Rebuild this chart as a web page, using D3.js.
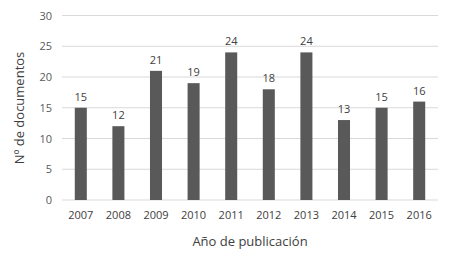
<!DOCTYPE html>
<html><head><meta charset="utf-8">
<script src="https://cdn.jsdelivr.net/npm/d3@7"></script>
<style>body{margin:0;background:#fff}svg{display:block}</style>
</head><body><svg width="454" height="262"></svg>
<script>
const years = ["2007","2008","2009","2010","2011","2012","2013","2014","2015","2016"];
const docs = [15,12,21,19,24,18,24,13,15,16];
const yTicks = [0,5,10,15,20,25,30];
const xTitle = "Año de publicación";
const yTitle = "Nº de documentos";

const svg = d3.select("svg");
const m = {left:62, right:16, top:16, bottom:62};
const W = 454, H = 262;
const x = d3.scaleBand().domain(years).range([m.left, W-m.right]).paddingInner(0.68).paddingOuter(0.34);
const y = d3.scaleLinear().domain([0,30]).range([200, 15.5]);
const font = "'Open Sans', 'Liberation Sans', sans-serif";

svg.append("g").selectAll("line").data(yTicks).join("line")
  .attr("x1", m.left).attr("x2", W-m.right)
  .attr("y1", d=>y(d)).attr("y2", d=>y(d))
  .attr("stroke", "#d9d9d9").attr("stroke-width", 1);

svg.append("g").selectAll("text").data(yTicks).join("text")
  .attr("x", 52).attr("y", d=>y(d)+4).attr("text-anchor","end")
  .attr("font-family", font).attr("font-size", 11).attr("fill","#595959").text(d=>d);

svg.append("g").selectAll("rect").data(docs).join("rect")
  .attr("x",(d,i)=>x(years[i])).attr("width",x.bandwidth())
  .attr("y",d=>y(d)).attr("height",d=>y(0)-y(d)).attr("fill","#595959");

svg.append("g").selectAll("text").data(docs).join("text")
  .attr("x",(d,i)=>x(years[i])+x.bandwidth()/2).attr("y",d=>y(d)-7)
  .attr("text-anchor","middle").attr("font-family",font).attr("font-size",11)
  .attr("fill","#404040").text(d=>d);

svg.append("g").selectAll("text").data(years).join("text")
  .attr("x",d=>x(d)+x.bandwidth()/2).attr("y",219)
  .attr("text-anchor","middle").attr("font-family",font).attr("font-size",11)
  .attr("fill","#404040").text(d=>d);

svg.append("text").attr("x",(m.left+W-m.right)/2).attr("y",246)
  .attr("text-anchor","middle").attr("font-family",font).attr("font-size",13)
  .attr("fill","#404040").text(xTitle);

svg.append("text").attr("transform","translate(24,108) rotate(-90)")
  .attr("text-anchor","middle").attr("font-family",font).attr("font-size",13)
  .attr("fill","#404040").text(yTitle);
</script></body></html>
